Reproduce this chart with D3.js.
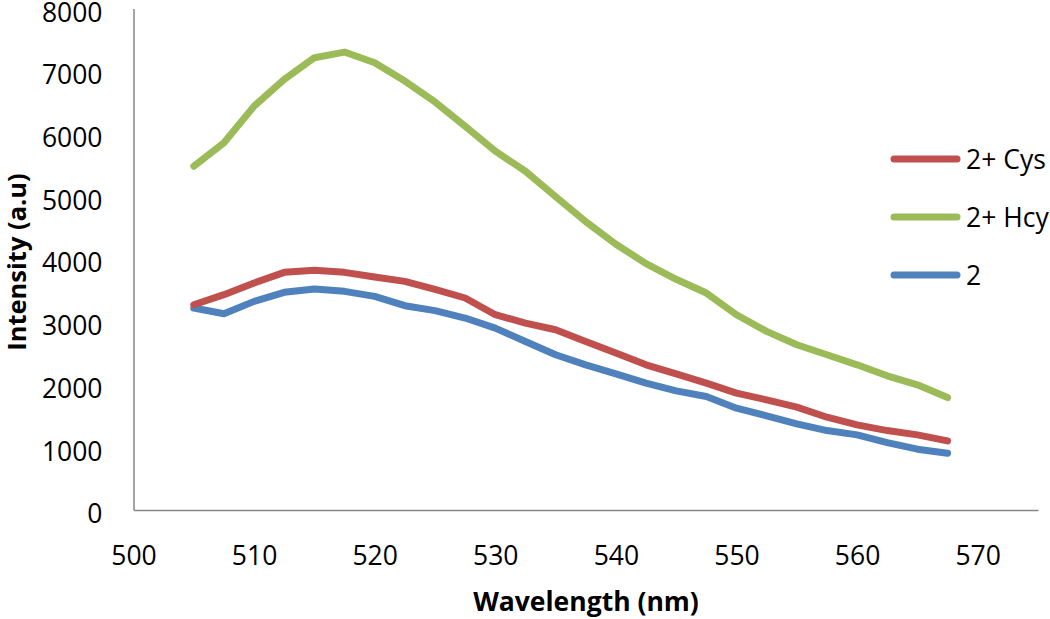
<!DOCTYPE html>
<html>
<head>
<meta charset="utf-8">
<script src="https://cdn.jsdelivr.net/npm/d3@7"></script>
<style>
  html, body { margin: 0; padding: 0; background: #fff; }
  svg { display: block; }
  text { font-family: "Open Sans", "Noto Sans", sans-serif; fill: #000; }
</style>
</head>
<body>
<svg id="chart" width="1050" height="619"></svg>
<script>
// ---- data ----
const wavelengths = [505, 507.5, 510, 512.5, 515, 517.5, 520, 522.5, 525, 527.5, 530, 532.5, 535, 537.5, 540, 542.5, 545, 547.5, 550, 552.5, 555, 557.5, 560, 562.5, 565, 567.5];
const cys   = [3275, 3435, 3621, 3791, 3823, 3791, 3717, 3647, 3520, 3382, 3115, 2982, 2875, 2689, 2503, 2316, 2170, 2023, 1864, 1757, 1640, 1480, 1358, 1267, 1198, 1102];
const hcy   = [5484, 5858, 6443, 6869, 7215, 7305, 7135, 6842, 6510, 6123, 5724, 5404, 5000, 4600, 4240, 3930, 3680, 3461, 3115, 2849, 2636, 2476, 2316, 2141, 1997, 1794];
const blank = [3222, 3131, 3328, 3472, 3525, 3488, 3408, 3259, 3180, 3062, 2902, 2689, 2476, 2316, 2172, 2023, 1900, 1810, 1624, 1502, 1374, 1267, 1198, 1075, 970, 906];
const seriesNames = ["2+ Cys", "2+ Hcy", "2"];
const seriesColors = ["#C0504D", "#9BBB59", "#4F81BD"];
const xTicks = [500, 510, 520, 530, 540, 550, 560, 570];
const yTicks = [0, 1000, 2000, 3000, 4000, 5000, 6000, 7000, 8000];
const xTitle = "Wavelength (nm)";
const yTitle = "Intensity (a.u)";

// ---- layout ----
const svg = d3.select("#chart");
const mLeft = 133.5, mBottom = 510, mTop = 8.5, mRight = 1038;
const tickFont = "26.5px";

const x = d3.scaleLinear().domain([500, 575]).range([mLeft, mRight]);
const y = d3.scaleLinear().domain([0, 8000]).range([mBottom, mTop]);

// axes
const yAxis = d3.axisLeft(y).tickValues(yTicks).tickSize(0).tickPadding(31).tickFormat(d3.format("d"));
const xAxis = d3.axisBottom(x).tickValues(xTicks).tickSize(0).tickPadding(36).tickFormat(d3.format("d"));

const gy = svg.append("g").attr("transform", `translate(${mLeft},0)`).call(yAxis);
const gx = svg.append("g").attr("transform", `translate(0,${mBottom})`).call(xAxis);
[gx, gy].forEach(g => {
  g.select(".domain").attr("stroke", "#868686").attr("stroke-width", 1.5);
  g.selectAll("text").style("font-size", tickFont).attr("fill", "#000");
});
gy.selectAll("text").attr("dy", "0.48em");

// titles
svg.append("text")
  .attr("x", 586)
  .attr("y", 611)
  .attr("text-anchor", "middle")
  .style("font-size", "26.5px")
  .style("font-weight", "bold")
  .text(xTitle);

svg.append("text")
  .attr("transform", "translate(26,262) rotate(-90)")
  .attr("text-anchor", "middle")
  .style("font-size", "25.5px")
  .style("font-weight", "bold")
  .text(yTitle);

// lines
const line = d3.line().x(d => x(d[0])).y(d => y(d[1]));
const allSeries = [cys, hcy, blank];
[2, 0, 1].forEach(i => {
  svg.append("path")
    .datum(wavelengths.map((w, j) => [w, allSeries[i][j]]))
    .attr("fill", "none")
    .attr("stroke", seriesColors[i])
    .attr("stroke-width", 7)
    .attr("stroke-linejoin", "round")
    .attr("stroke-linecap", "round")
    .attr("d", line);
});

// legend
const legendY = d3.scalePoint().domain(seriesNames).range([159, 275]);
const lg = svg.append("g");
seriesNames.forEach((name, i) => {
  lg.append("line")
    .attr("x1", 894).attr("x2", 957)
    .attr("y1", legendY(name)).attr("y2", legendY(name))
    .attr("stroke", seriesColors[i])
    .attr("stroke-width", 7)
    .attr("stroke-linecap", "round");
  lg.append("text")
    .attr("x", 966)
    .attr("y", legendY(name))
    .attr("dy", "0.36em")
    .style("font-size", tickFont)
    .text(name);
});
</script>
</body>
</html>
